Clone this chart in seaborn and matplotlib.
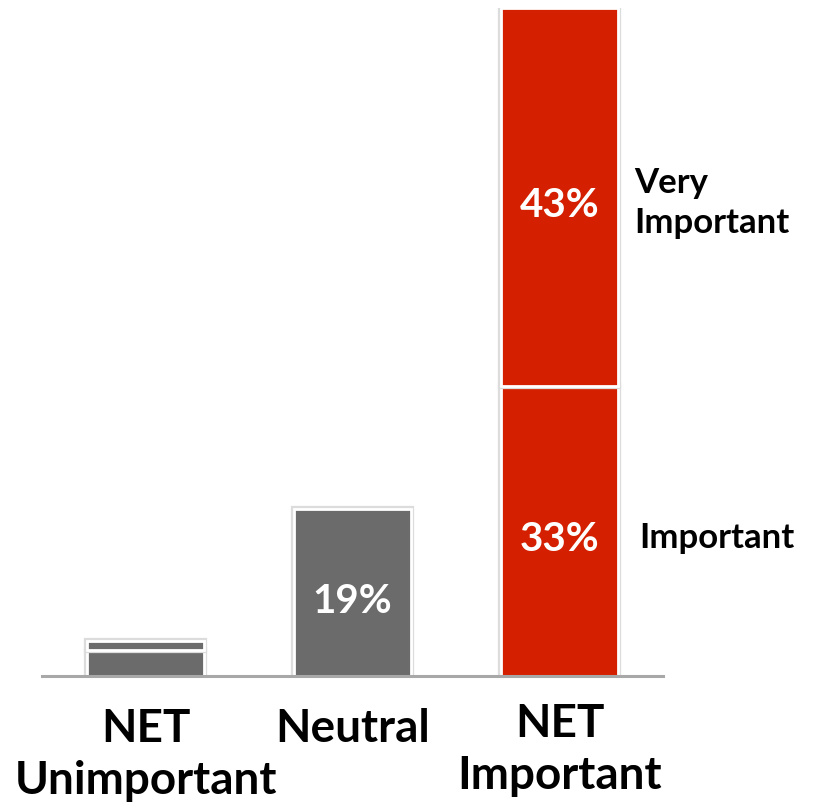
import matplotlib
matplotlib.use("Agg")
import matplotlib.pyplot as plt
import matplotlib.patheffects as pe
import matplotlib.transforms as mtransforms
import numpy as np
import pandas as pd
import seaborn as sns

# Data
categories = ["NET\nUnimportant", "Neutral", "NET\nImportant"]
lower_values = [3, 19, 33]      # Unimportant / Neutral / Important
upper_values = [1, 0, 43]       # Very Unimportant / - / Very Important
lower_labels = ["", "19%", "33%"]
upper_labels = ["", "", "43%"]
side_labels = ["Important", "Very\nImportant"]
bar_colors = ["#6b6b6b", "#6b6b6b", "#d42000"]

sns.set_style("white")
plt.rcParams["font.family"] = ["Lato", "DejaVu Sans"]

W, H = 814, 804
fig = plt.figure(figsize=(W / 100, H / 100), dpi=100)
ax = fig.add_axes([42 / W, 1 - 677 / H, (663 - 42) / W, (677 - 9) / H])

shadow = [pe.Stroke(linewidth=4.5, foreground="#dcdcdc"), pe.Normal()]

# Stacked bars: one lower and one upper segment per category
for i, cat in enumerate(categories):
    for value, base in ((lower_values[i], 0), (upper_values[i], lower_values[i])):
        if value <= 0:
            continue
        seg = pd.DataFrame({"category": [cat], "value": [value]})
        sns.barplot(data=seg, x="category", y="value", order=categories,
                    color=bar_colors[i], saturation=1, width=0.57,
                    edgecolor="white", linewidth=2, bottom=base, ax=ax)

for patch in ax.patches:
    if patch.get_height() > 0:
        patch.set_path_effects(shadow)

ax.set_xlim(-0.5, 2.5)
ax.set_ylim(0, 76)
ax.set_xlabel("")
ax.set_ylabel("")
ax.set_xticks([])
ax.set_yticks([])
for s in ["top", "left", "right"]:
    ax.spines[s].set_visible(False)
ax.spines["bottom"].set_color("#a8a8a8")
ax.spines["bottom"].set_linewidth(2.2)

def shifted(dy_px):
    return ax.transData + mtransforms.ScaledTranslation(0, -dy_px / 100, fig.dpi_scale_trans)

# Value labels inside the segments
for i in range(len(categories)):
    lo, up = lower_values[i], upper_values[i]
    if lower_labels[i]:
        ax.text(i, lo / 2, lower_labels[i], ha="center", va="center",
                color="white", fontsize=29, fontweight="bold",
                transform=shifted(8))
    if upper_labels[i]:
        ax.text(i, lo + up / 2, upper_labels[i], ha="center", va="center",
                color="white", fontsize=29, fontweight="bold",
                transform=shifted(8))

# Segment names beside the last bar
ax.text(2.385, lower_values[2] / 2, side_labels[0], ha="left", va="center",
        fontsize=25, fontweight="bold", color="black", transform=shifted(6))
ax.text(2.36, lower_values[2] + upper_values[2] / 2, side_labels[1],
        ha="left", va="center", fontsize=25, fontweight="bold",
        color="black", linespacing=1.3, transform=shifted(5))

# Category labels below the axis
trans = mtransforms.blended_transform_factory(ax.transData, fig.transFigure)
label_y = [755, 729, 750]
for i, cat in enumerate(categories):
    ax.text(i, 1 - label_y[i] / H, cat, transform=trans, ha="center",
            va="center", fontsize=33, fontweight="bold", color="black",
            linespacing=1.3, clip_on=False)

fig.savefig("out.png", dpi=100)
